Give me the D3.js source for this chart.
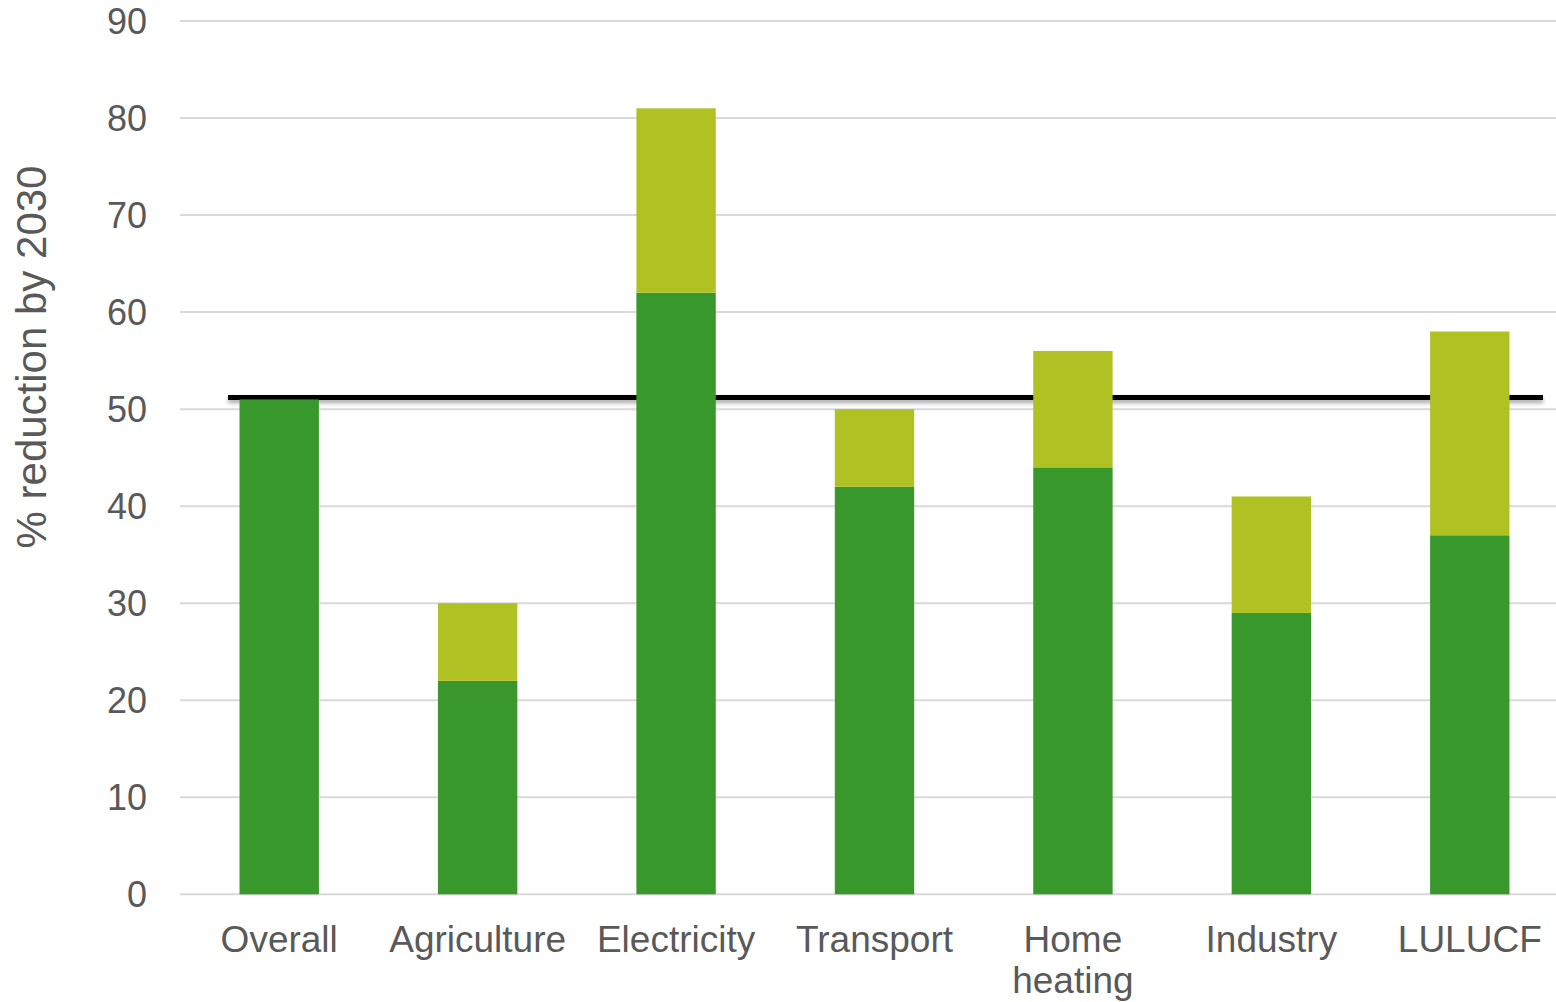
<!DOCTYPE html>
<html>
<head>
<meta charset="utf-8">
<script src="https://cdn.jsdelivr.net/npm/d3@7"></script>
<style>
  html, body { margin: 0; padding: 0; background: #fff; }
  svg { display: block; font-family: "Liberation Sans", Arial, sans-serif; }
</style>
</head>
<body>
<svg id="chart"></svg>
<script>
const categories = ['Overall', 'Agriculture', 'Electricity', 'Transport', 'Home heating', 'Industry', 'LULUCF'];
const baseValues = [51, 22, 62, 42, 44, 29, 37];
const extraValues = [0, 8, 19, 8, 12, 12, 21];
const yTicks = [0, 10, 20, 30, 40, 50, 60, 70, 80, 90];
const targetLine = 51.2;

const width = 1556, height = 1002;
const margin = { top: 21, right: -13, bottom: 107.7, left: 180 };

const svg = d3.select('#chart')
  .attr('width', width)
  .attr('height', height);

const x = d3.scaleBand()
  .domain(categories)
  .range([margin.left, width - margin.right])
  .paddingInner(0.6)
  .paddingOuter(0.3);

const y = d3.scaleLinear()
  .domain([0, 90])
  .range([height - margin.bottom, margin.top]);

const defs = svg.append('defs');
const shadow = defs.append('filter')
  .attr('id', 'shadow')
  .attr('filterUnits', 'userSpaceOnUse')
  .attr('x', 200).attr('y', 380)
  .attr('width', 1380).attr('height', 40);
shadow.append('feDropShadow')
  .attr('dx', 0).attr('dy', 3)
  .attr('stdDeviation', 2)
  .attr('flood-color', '#000')
  .attr('flood-opacity', 0.35);

// gridlines
svg.append('g')
  .selectAll('line')
  .data(yTicks)
  .enter()
  .append('line')
  .attr('x1', margin.left)
  .attr('x2', width)
  .attr('y1', d => y(d))
  .attr('y2', d => y(d))
  .attr('stroke', '#d9d9d9')
  .attr('stroke-width', 2);

// y tick labels
svg.append('g')
  .selectAll('text')
  .data(yTicks)
  .enter()
  .append('text')
  .attr('x', 147)
  .attr('y', d => y(d))
  .attr('dy', '0.35em')
  .attr('text-anchor', 'end')
  .attr('fill', '#595959')
  .style('font-size', '36px')
  .text(d => d);

// target line (behind bars)
svg.append('rect')
  .attr('x', 228)
  .attr('width', 1543 - 228)
  .attr('y', y(targetLine) - 2.5)
  .attr('height', 5)
  .attr('fill', '#000')
  .attr('filter', 'url(#shadow)');

// stacked bars
const stackData = categories.map((c, i) => ({ cat: c, base: baseValues[i], extra: extraValues[i] }));
const series = d3.stack().keys(['base', 'extra'])(stackData);
const colors = { base: '#38982b', extra: '#b0c124' };

svg.append('g')
  .selectAll('g')
  .data(series)
  .enter()
  .append('g')
  .attr('fill', d => colors[d.key])
  .selectAll('rect')
  .data(d => d)
  .enter()
  .append('rect')
  .attr('x', d => x(d.data.cat))
  .attr('width', x.bandwidth())
  .attr('y', d => y(d[1]))
  .attr('height', d => y(d[0]) - y(d[1]));

// category labels
const labels = svg.append('g')
  .selectAll('text')
  .data(categories)
  .enter()
  .append('text')
  .attr('x', d => x(d) + x.bandwidth() / 2)
  .attr('y', 952)
  .attr('text-anchor', 'middle')
  .attr('fill', '#595959')
  .style('font-size', '37px');

labels.each(function(d) {
  const words = d === 'Home heating' ? ['Home', 'heating'] : [d];
  const t = d3.select(this);
  words.forEach((w, i) => {
    t.append('tspan')
      .attr('x', x(d) + x.bandwidth() / 2)
      .attr('dy', i === 0 ? 0 : 41)
      .text(w);
  });
});

// y axis title
svg.append('text')
  .attr('transform', `translate(46,${357}) rotate(-90)`)
  .attr('text-anchor', 'middle')
  .attr('fill', '#595959')
  .style('font-size', '42px')
  .text('% reduction by 2030');
</script>
</body>
</html>
